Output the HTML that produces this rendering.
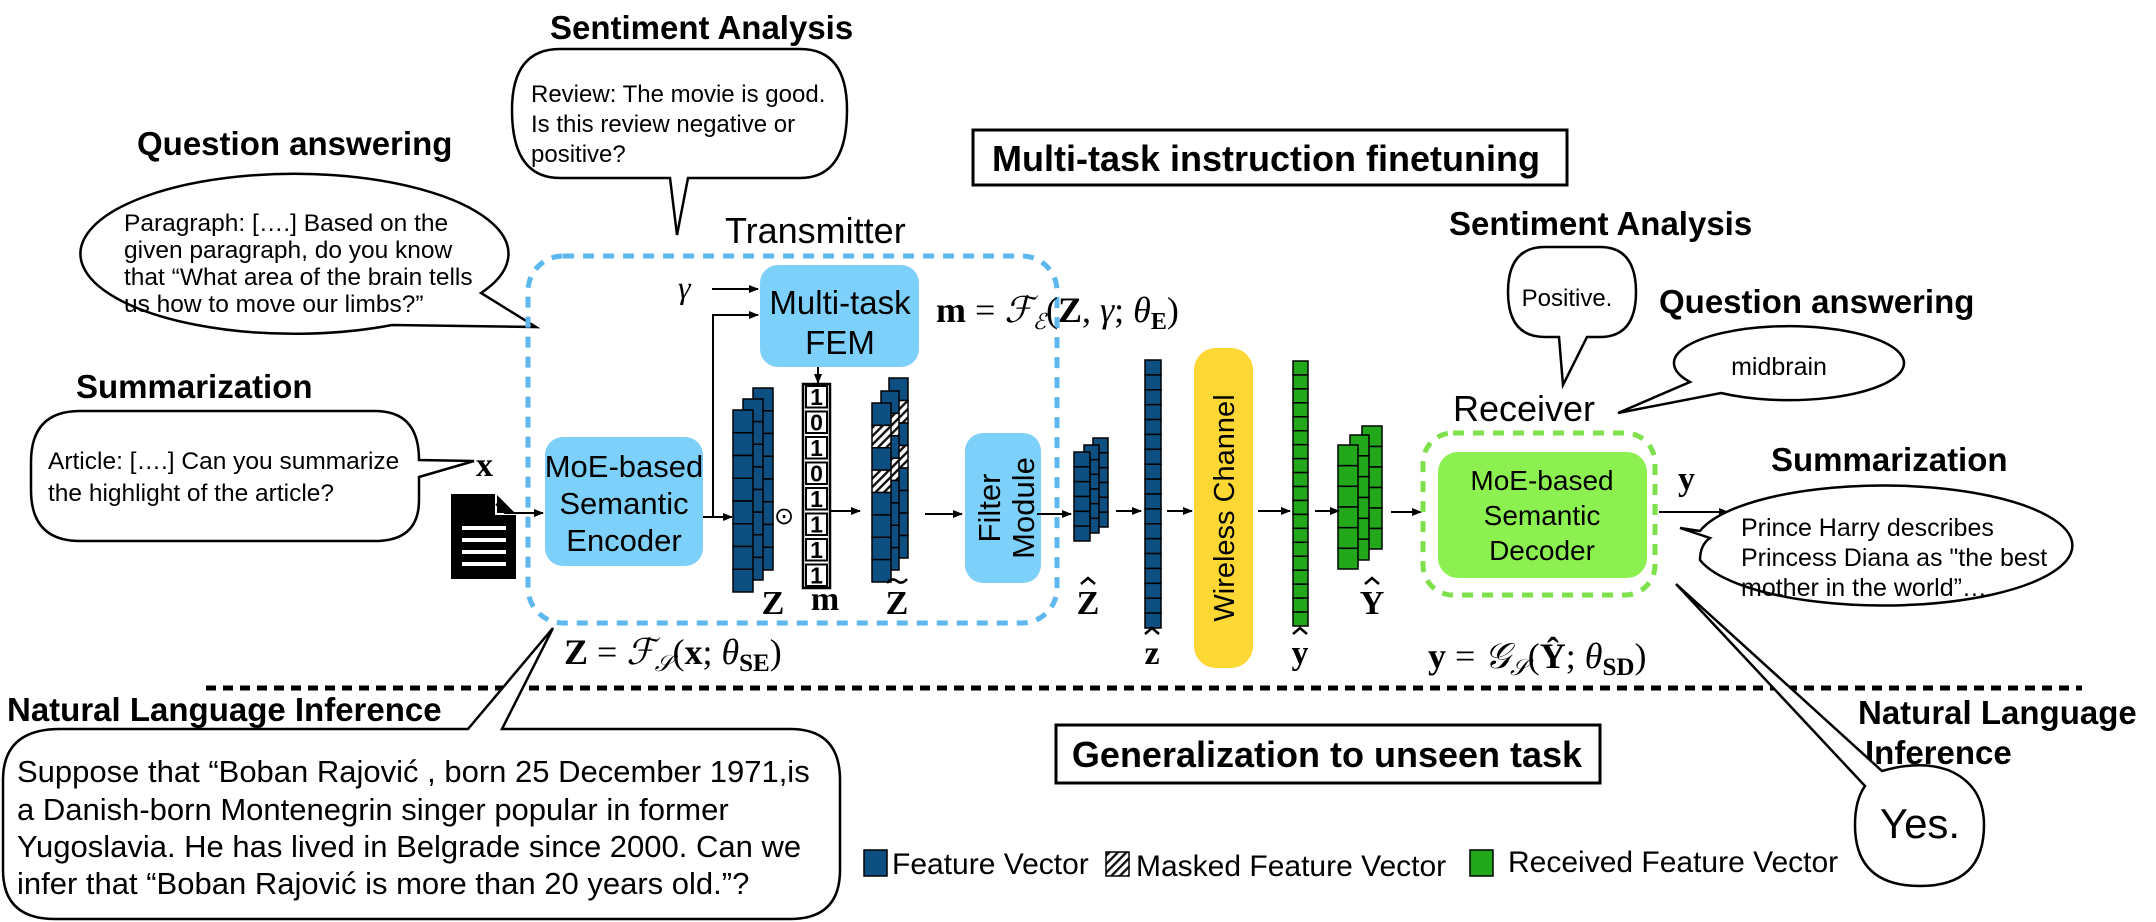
<!DOCTYPE html>
<html><head><meta charset="utf-8"><style>
html,body{margin:0;padding:0;background:#fff;}
svg{display:block;}
.s{font-family:"Liberation Sans",Arial,sans-serif;}
.b{font-family:"Liberation Sans",Arial,sans-serif;font-weight:bold;}
.m{font-family:"Liberation Serif",serif;}
</style></head><body>
<svg id="g" width="2156" height="922" viewBox="0 0 2156 922" xmlns="http://www.w3.org/2000/svg">
<defs>
<pattern id="h" width="6" height="6" patternUnits="userSpaceOnUse" patternTransform="rotate(45)">
<rect width="6" height="6" fill="#fff"/><rect width="2.4" height="6" fill="#111"/></pattern>
<marker id="a" markerWidth="10" markerHeight="10" refX="9" refY="5" orient="auto" markerUnits="userSpaceOnUse"><path d="M0,1 L10,5 L0,9 z" fill="#000"/></marker>
</defs>

<!-- titles -->
<text x="550" y="39" class="b" font-size="33">Sentiment Analysis</text>
<text x="137" y="155" class="b" font-size="33">Question answering</text>
<text x="76" y="398" class="b" font-size="33">Summarization</text>
<text x="7" y="721" class="b" font-size="33">Natural Language Inference</text>
<text x="1449" y="235" class="b" font-size="33">Sentiment Analysis</text>
<text x="1659" y="313" class="b" font-size="33">Question answering</text>
<text x="1771" y="471" class="b" font-size="33">Summarization</text>
<text x="1858" y="724" class="b" font-size="33">Natural Language</text>
<text x="1865" y="764" class="b" font-size="33">Inference</text>

<!-- boxes -->
<rect x="973" y="130" width="594" height="55" fill="#fff" stroke="#000" stroke-width="3"/>
<text x="1266" y="171" class="b" font-size="36" text-anchor="middle">Multi-task instruction finetuning</text>
<rect x="1056" y="725" width="544" height="58" fill="#fff" stroke="#000" stroke-width="3"/>
<text x="1327" y="767" class="b" font-size="36" text-anchor="middle">Generalization to unseen task</text>

<!-- sentiment bubble -->
<path d="M560,49 L800,49 Q847,49 847,110 Q847,178 800,178 L688,178 L677,235 L670,178 L560,178 Q512,178 512,110 Q512,49 560,49 Z" fill="#fff" stroke="#000" stroke-width="2.5"/>
<text class="s" font-size="24" x="531" y="102">Review: The movie is good.</text>
<text class="s" font-size="24" x="531" y="132">Is this review negative or</text>
<text class="s" font-size="24" x="531" y="162">positive?</text>

<!-- QA ellipse -->
<path d="M481,293 A214,80 0 1 0 392,325 L536,327 Z" fill="#fff" stroke="#000" stroke-width="2.5"/>
<text class="s" font-size="24.5" x="124" y="231">Paragraph: [….] Based on the</text>
<text class="s" font-size="24.5" x="124" y="258">given paragraph, do you know</text>
<text class="s" font-size="24.5" x="124" y="285">that “What area of the brain tells</text>
<text class="s" font-size="24.5" x="124" y="312">us how to move our limbs?”</text>

<!-- summarization bubble -->
<path d="M80,411 L375,411 Q419,411 419,460 L474,461 L419,477 L419,500 Q419,541 375,541 L80,541 Q31,541 31,490 L31,462 Q31,411 80,411 Z" fill="#fff" stroke="#000" stroke-width="2.5"/>
<text class="s" font-size="24.5" x="48" y="469">Article: [….] Can you summarize</text>
<text class="s" font-size="24.5" x="48" y="501">the highlight of the article?</text>

<!-- x and doc -->
<text x="476" y="476" class="m" font-weight="bold" font-size="34">x</text>
<path d="M451,494 L496,494 L516,514 L516,579 L451,579 Z" fill="#000"/>
<path d="M496,494 L496,514 L516,514" fill="none" stroke="#fff" stroke-width="2"/>
<rect x="462" y="526" width="44" height="4" fill="#fff"/>
<rect x="462" y="538" width="44" height="4" fill="#fff"/>
<rect x="462" y="550" width="44" height="4" fill="#fff"/>
<rect x="462" y="562" width="44" height="4" fill="#fff"/>

<!-- transmitter -->
<text x="725" y="243" class="s" font-size="36">Transmitter</text>
<rect x="528" y="256" width="529" height="367" rx="35" fill="none" stroke="#5cb8ee" stroke-width="5" stroke-dasharray="11,9"/>
<text x="678" y="298" class="m" font-style="italic" font-size="32">γ</text>
<line x1="712" y1="289" x2="758" y2="289" stroke="#000" stroke-width="2" marker-end="url(#a)"/>
<polyline points="713,517 713,315 758,315" fill="none" stroke="#000" stroke-width="2" marker-end="url(#a)"/>
<rect x="760" y="265" width="159" height="102" rx="18" fill="#7dd0f9"/>
<text x="840" y="314" class="s" font-size="33" text-anchor="middle">Multi-task</text>
<text x="840" y="354" class="s" font-size="33" text-anchor="middle">FEM</text>
<text x="936" y="322" class="m" font-size="36"><tspan font-weight="bold">m</tspan> = <tspan font-style="italic">ℱ</tspan><tspan font-size="22" dy="7" font-style="italic">ℰ</tspan><tspan dy="-7">(</tspan><tspan font-weight="bold">Z</tspan>, <tspan font-style="italic">γ</tspan>; <tspan font-style="italic">θ</tspan><tspan font-size="24" dy="7" font-weight="bold">E</tspan><tspan dy="-7">)</tspan></text>
<line x1="818" y1="367" x2="818" y2="383" stroke="#000" stroke-width="2" marker-end="url(#a)"/>

<rect x="545" y="437" width="158" height="129" rx="18" fill="#7dd0f9"/>
<text x="624" y="477" class="s" font-size="31" text-anchor="middle">MoE-based</text>
<text x="624" y="514" class="s" font-size="31" text-anchor="middle">Semantic</text>
<text x="624" y="551" class="s" font-size="31" text-anchor="middle">Encoder</text>
<polyline points="496,504 505,513 543,513" fill="none" stroke="#000" stroke-width="2" marker-end="url(#a)"/>
<line x1="703" y1="517" x2="732" y2="517" stroke="#000" stroke-width="2" marker-end="url(#a)"/>

<g id="stacks"></g>

<text x="784" y="524" class="m" font-size="24" text-anchor="middle">⊙</text>
<rect x="803" y="384" width="27" height="204" fill="#fff" stroke="#000" stroke-width="2.5"/>
<g id="mcol"></g>
<line x1="830" y1="511" x2="860" y2="511" stroke="#000" stroke-width="2" marker-end="url(#a)"/>
<line x1="925" y1="514" x2="962" y2="514" stroke="#000" stroke-width="2" marker-end="url(#a)"/>
<rect x="965" y="433" width="76" height="150" rx="18" fill="#7dd0f9"/>
<text transform="translate(1000,508) rotate(-90)" class="s" font-size="31" text-anchor="middle">Filter</text>
<text transform="translate(1034,508) rotate(-90)" class="s" font-size="31" text-anchor="middle">Module</text>
<line x1="1037" y1="514" x2="1071" y2="514" stroke="#000" stroke-width="2" marker-end="url(#a)"/>

<!-- labels -->
<g class="m" font-weight="bold" font-size="34" text-anchor="middle">
<text x="773" y="614">Z</text>
<text x="825" y="610">m</text>
<text x="897" y="614">Z</text>
<text x="1088" y="614">Z</text>
<text x="1152" y="664">z</text>
<text x="1300" y="664">y</text>
<text x="1372" y="614">Y</text>
</g>
<g fill="none" stroke="#000" stroke-width="2.5">
<path d="M887,583 Q892,577 897,581 Q902,585 907,579"/>
<path d="M1081,584 L1088,578 L1095,584"/>
<path d="M1145,634 L1152,628 L1159,634"/>
<path d="M1293,634 L1300,628 L1307,634"/>
<path d="M1365,584 L1372,578 L1379,584"/>
</g>

<text x="564" y="664" class="m" font-size="36"><tspan font-weight="bold">Z</tspan> = <tspan font-style="italic">ℱ</tspan><tspan font-size="23" dy="7" font-style="italic">𝒮</tspan><tspan dy="-7">(</tspan><tspan font-weight="bold">x</tspan>; <tspan font-style="italic">θ</tspan><tspan font-size="25" dy="7" font-weight="bold">SE</tspan><tspan dy="-7">)</tspan></text>

<!-- channel -->
<line x1="1116" y1="511" x2="1141" y2="511" stroke="#000" stroke-width="2" marker-end="url(#a)"/>
<line x1="1167" y1="511" x2="1192" y2="511" stroke="#000" stroke-width="2" marker-end="url(#a)"/>
<rect x="1194" y="348" width="59" height="320" rx="22" fill="#fdd835"/>
<text transform="translate(1234,508) rotate(-90)" class="s" font-size="29" text-anchor="middle">Wireless Channel</text>
<line x1="1258" y1="511" x2="1290" y2="511" stroke="#000" stroke-width="2" marker-end="url(#a)"/>
<line x1="1315" y1="511" x2="1339" y2="511" stroke="#000" stroke-width="2" marker-end="url(#a)"/>
<line x1="1391" y1="512" x2="1421" y2="512" stroke="#000" stroke-width="2" marker-end="url(#a)"/>

<!-- receiver -->
<text x="1453" y="421" class="s" font-size="36">Receiver</text>
<rect x="1423" y="433" width="232" height="162" rx="30" fill="none" stroke="#7ee04a" stroke-width="5" stroke-dasharray="11,9"/>
<rect x="1438" y="452" width="209" height="126" rx="20" fill="#8cf050"/>
<text x="1542" y="490" class="s" font-size="28" text-anchor="middle">MoE-based</text>
<text x="1542" y="525" class="s" font-size="28" text-anchor="middle">Semantic</text>
<text x="1542" y="560" class="s" font-size="28" text-anchor="middle">Decoder</text>
<line x1="1659" y1="512" x2="1728" y2="512" stroke="#000" stroke-width="2" marker-end="url(#a)"/>
<text x="1678" y="490" class="m" font-weight="bold" font-size="34">y</text>
<text x="1428" y="668" class="m" font-size="36"><tspan font-weight="bold">y</tspan> = <tspan font-style="italic">𝒢</tspan><tspan font-size="23" dy="7" font-style="italic">𝒮</tspan><tspan dy="-7">(</tspan><tspan font-weight="bold">Ŷ</tspan>; <tspan font-style="italic">θ</tspan><tspan font-size="25" dy="7" font-weight="bold">SD</tspan><tspan dy="-7">)</tspan></text>

<!-- positive bubble -->
<path d="M1545,247 L1600,247 Q1636,247 1636,292 Q1636,337 1600,337 L1587,337 L1563,385 L1559,337 L1545,337 Q1508,337 1508,292 Q1508,247 1545,247 Z" fill="#fff" stroke="#000" stroke-width="2.5"/>
<text x="1567" y="306" class="s" font-size="24" text-anchor="middle">Positive.</text>
<!-- midbrain -->
<path d="M1690,382 A115,37 0 1 1 1721,393 L1618,413 Z" fill="#fff" stroke="#000" stroke-width="2.5"/>
<text x="1779" y="375" class="s" font-size="25" text-anchor="middle">midbrain</text>
<!-- prince -->
<path d="M1700,531 A189,60 0 1 1 1700,560 Q1700,545 1710,538 L1680,528 Z" fill="#fff" stroke="#000" stroke-width="2.5"/>
<text class="s" font-size="25" x="1741" y="536">Prince Harry describes</text>
<text class="s" font-size="25" x="1741" y="566">Princess Diana as "the best</text>
<text class="s" font-size="25" x="1741" y="596">mother in the world”…</text>

<!-- dashed divider -->
<line x1="206" y1="688" x2="2082" y2="688" stroke="#000" stroke-width="5" stroke-dasharray="10,7"/>

<!-- yes bubble -->
<path d="M1882,771 Q1920,760 1948,770 Q1984,785 1984,825 Q1984,886 1920,886 Q1855,886 1855,825 Q1855,800 1865,786 L1676,584 Z" fill="#fff" stroke="#000" stroke-width="2.5"/>
<text x="1920" y="838" class="s" font-size="42" text-anchor="middle">Yes.</text>

<!-- NLI bubble -->
<path d="M60,729 L468,729 L553,628 L502,729 L790,729 Q840,729 840,780 L840,870 Q840,919 790,919 L55,919 Q3,919 3,870 L3,780 Q3,729 60,729 Z" fill="#fff" stroke="#000" stroke-width="2.5"/>
<text class="s" font-size="31" x="17" y="782">Suppose that “Boban Rajović , born 25 December 1971,is</text>
<text class="s" font-size="31" x="17" y="820">a Danish-born Montenegrin singer popular in former</text>
<text class="s" font-size="31" x="17" y="857">Yugoslavia. He has lived in Belgrade since 2000. Can we</text>
<text class="s" font-size="31" x="17" y="894">infer that “Boban Rajović is more than 20 years old.”?</text>

<!-- legend -->
<rect x="864" y="850" width="23" height="26" fill="#0d4f80" stroke="#000" stroke-width="1.5"/>
<text x="892" y="874" class="s" font-size="30">Feature Vector</text>
<rect x="1106" y="852" width="23" height="24" fill="url(#h)" stroke="#000" stroke-width="1.5"/>
<text x="1136" y="876" class="s" font-size="30">Masked Feature Vector</text>
<rect x="1470" y="850" width="23" height="26" fill="#22a81a" stroke="#000" stroke-width="1.5"/>
<text x="1508" y="872" class="s" font-size="30">Received Feature Vector</text>
</svg>
<script>
var NS="http://www.w3.org/2000/svg",G=document.getElementById('stacks');
function r(x,y,w,h,f){var e=document.createElementNS(NS,'rect');e.setAttribute('x',x);e.setAttribute('y',y);e.setAttribute('width',w);e.setAttribute('height',h);e.setAttribute('fill',f);e.setAttribute('stroke','#000');e.setAttribute('stroke-width','1.5');G.appendChild(e);}
function col(x,y,w,h,n,f,hat){var c=h/n;for(var i=0;i<n;i++){r(x,y+i*c,w,c,(hat&&hat.indexOf(i)>=0)?'url(#h)':f);}}
var B='#0d4f80',Gr='#22a81a';
col(753,388,20,182,8,B);col(743,399,20,181,8,B);col(733,410,20,182,8,B);
col(889,378,19,180,8,B,[1,3]);col(881,391,18,179,8,B,[1,3]);col(872,403,19,179,8,B,[1,3]);
col(1093,438,15,89,6,B);col(1084,445,15,88,6,B);col(1074,452,16,89,6,B);
col(1145,360,16,268,18,B);
col(1293,361,15,265,19,Gr);
col(1362,426,20,123,6,Gr);col(1350,435,19,125,6,Gr);col(1338,445,20,124,6,Gr);
var M=document.getElementById('mcol'),d="10101111";
for(var i=0;i<8;i++){var y=384+i*25.5;var e=document.createElementNS(NS,'rect');e.setAttribute('x',806);e.setAttribute('y',y+2);e.setAttribute('width',21);e.setAttribute('height',21.5);e.setAttribute('fill','#fff');e.setAttribute('stroke','#000');e.setAttribute('stroke-width','2');M.appendChild(e);
var t=document.createElementNS(NS,'text');t.setAttribute('x',816.5);t.setAttribute('y',y+21);t.setAttribute('text-anchor','middle');t.setAttribute('font-size','23');t.setAttribute('font-weight','bold');t.setAttribute('font-family','Liberation Sans, sans-serif');t.textContent=d[i];M.appendChild(t);}
</script>
</body></html>
